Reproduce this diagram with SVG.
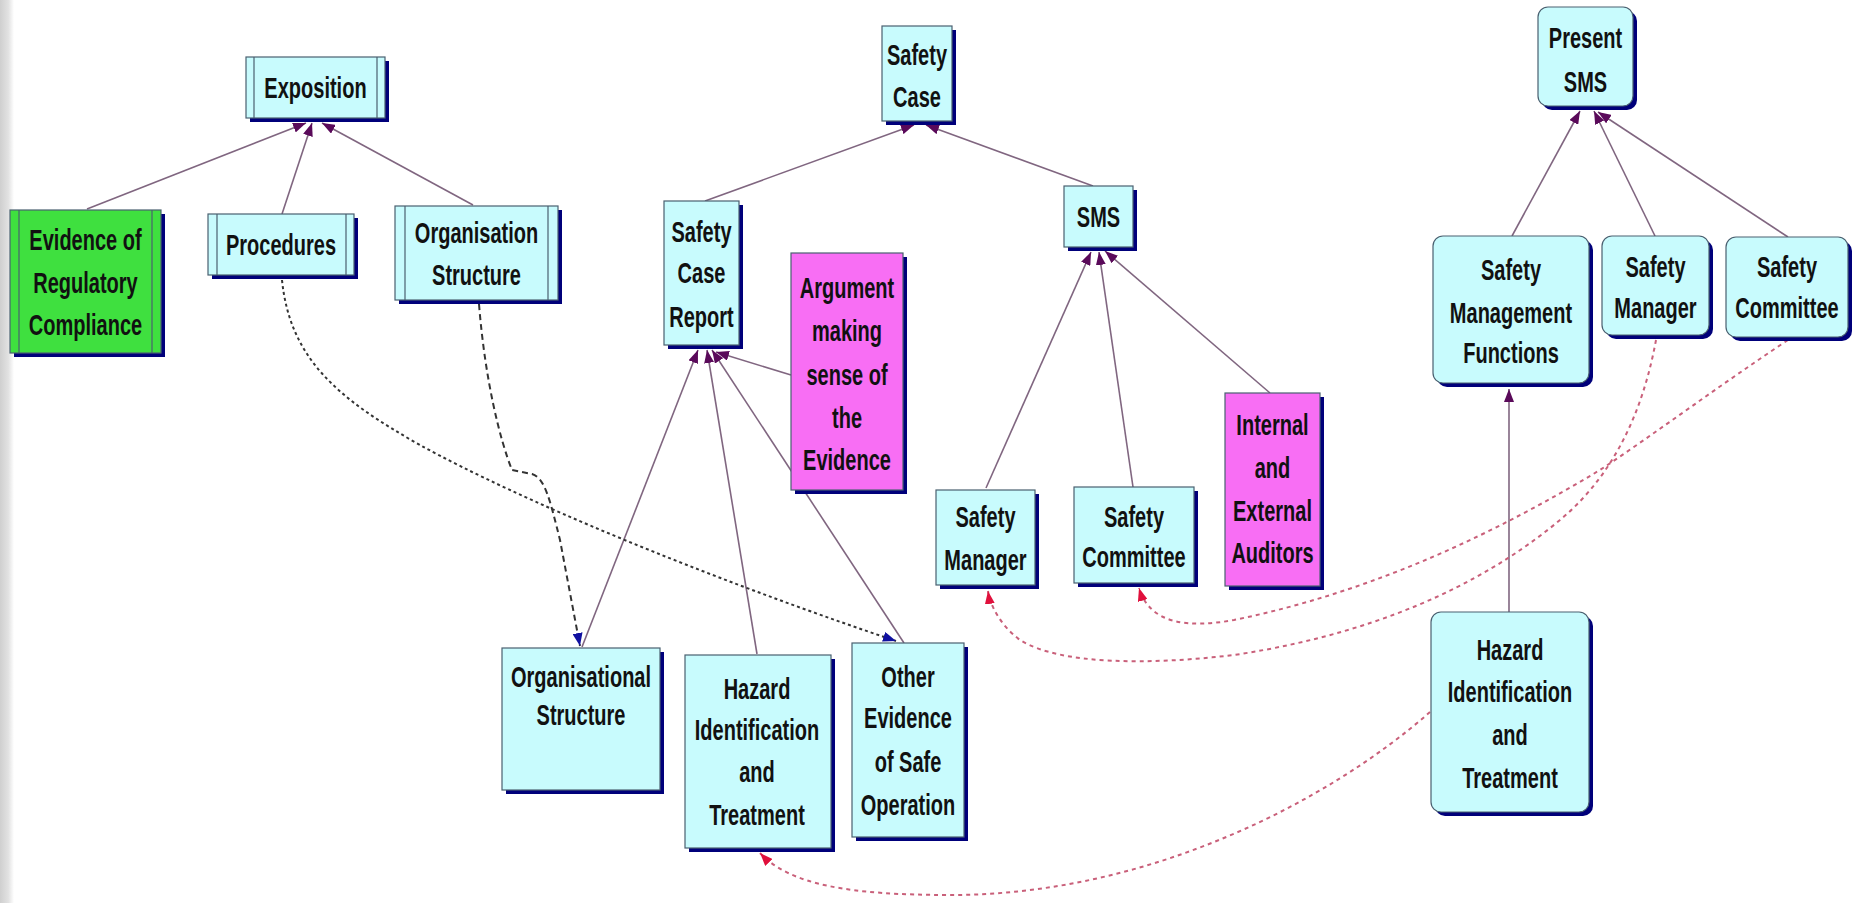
<svg xmlns="http://www.w3.org/2000/svg" width="1854" height="903" viewBox="0 0 1854 903">
<defs>
<linearGradient id="edge" x1="0" y1="0" x2="1" y2="0">
<stop offset="0" stop-color="#cfcfcf"/>
<stop offset="0.6" stop-color="#e2e2e2"/>
<stop offset="1" stop-color="#ffffff"/>
</linearGradient>
<marker id="ap" markerUnits="userSpaceOnUse" markerWidth="14" markerHeight="10" refX="13" refY="5" orient="auto"><path d="M0,0 L13,5 L0,10 z" fill="#5a0a5a"/></marker>
<marker id="ab" markerUnits="userSpaceOnUse" markerWidth="14" markerHeight="10" refX="13" refY="5" orient="auto"><path d="M0,0 L13,5 L0,10 z" fill="#1010a0"/></marker>
<marker id="ar" markerUnits="userSpaceOnUse" markerWidth="14" markerHeight="10" refX="13" refY="5" orient="auto"><path d="M0,0 L13,5 L0,10 z" fill="#e0103c"/></marker>
</defs>
<style>
.sh{fill:#00007a}
.box{stroke:#4a6070;stroke-width:1.2}
.cy{fill:#c8fbfd}
.gr{fill:#3fe03f}
.mg{fill:#f86ef4}
.bar{stroke:#4a6070;stroke-width:1.2}
text{font-family:"Liberation Sans",Arial,sans-serif;font-weight:bold;font-size:29px;fill:#111;text-anchor:middle}
.ln{fill:none;stroke:#806680;stroke-width:1.6}
.dk{fill:none;stroke:#333;stroke-width:2}
.rd{fill:none;stroke:#c9607a;stroke-width:2;stroke-dasharray:4 4}
</style>
<rect x="0" y="0" width="1854" height="903" fill="#ffffff"/>
<rect x="0" y="0" width="14" height="903" fill="url(#edge)"/>

<g id="connectors">
<path class="ln" d="M87,209 L306,123" marker-end="url(#ap)"/>
<path class="ln" d="M282,214 L312,123" marker-end="url(#ap)"/>
<path class="ln" d="M473,205 L322,123" marker-end="url(#ap)"/>
<path class="ln" d="M705,201 L914,125" marker-end="url(#ap)"/>
<path class="ln" d="M1093,186 L926,125" marker-end="url(#ap)"/>
<path class="ln" d="M582,647 L698,350" marker-end="url(#ap)"/>
<path class="ln" d="M757,654 L707,350" marker-end="url(#ap)"/>
<path class="ln" d="M904,643 L712,350" marker-end="url(#ap)"/>
<path class="ln" d="M791,375 L716,352" marker-end="url(#ap)"/>
<path class="ln" d="M986,488 L1091,252" marker-end="url(#ap)"/>
<path class="ln" d="M1133,487 L1099,252" marker-end="url(#ap)"/>
<path class="ln" d="M1270,393 L1105,251" marker-end="url(#ap)"/>
<path class="ln" d="M1512,236 L1580,111" marker-end="url(#ap)"/>
<path class="ln" d="M1655,236 L1594,111" marker-end="url(#ap)"/>
<path class="ln" d="M1788,237 L1598,112" marker-end="url(#ap)"/>
<path class="ln" d="M1509,612 L1509,389" marker-end="url(#ap)"/>
<path class="dk" stroke-dasharray="3 3" d="M282,280 C290,360 340,400 420,445 C520,500 700,575 896,641" marker-end="url(#ab)"/>
<path class="dk" stroke-dasharray="6 4" d="M479,304 C485,380 500,440 512,470 L532,474 C545,478 550,500 560,540 L580,646" marker-end="url(#ab)"/>
<path class="rd" d="M1430,712 C1330,800 1150,895 950,895 C850,895 790,885 760,853" marker-end="url(#ar)"/>
<path class="rd" d="M1656,340 C1645,400 1620,470 1560,520 C1500,570 1400,630 1234,655 C1150,665 1060,665 1020,640 C1000,625 990,605 988,591" marker-end="url(#ar)"/>
<path class="rd" d="M1788,340 C1720,385 1660,430 1600,470 C1500,530 1380,590 1234,620 C1190,628 1150,625 1139,588" marker-end="url(#ar)"/>
</g>

<g id="exposition">
<rect class="sh" x="250" y="61" width="139" height="61"/>
<rect class="box cy" x="246" y="57" width="139" height="61"/>
<line class="bar" x1="254" y1="57" x2="254" y2="118"/><line class="bar" x1="377" y1="57" x2="377" y2="118"/>
<text transform="matrix(0.69 0 0 1 315.5 0)"><tspan x="0" y="98">Exposition</tspan></text>
</g>

<g id="evidence-regulatory">
<rect class="sh" x="14" y="214" width="151" height="143"/>
<rect class="box gr" x="10" y="210" width="151" height="143"/>
<line class="bar" x1="19" y1="210" x2="19" y2="353"/><line class="bar" x1="152" y1="210" x2="152" y2="353"/>
<text transform="matrix(0.69 0 0 1 85.5 0)"><tspan x="0" y="250">Evidence of</tspan><tspan x="0" y="293">Regulatory</tspan><tspan x="0" y="335">Compliance</tspan></text>
</g>

<g id="procedures">
<rect class="sh" x="212" y="218" width="146" height="61"/>
<rect class="box cy" x="208" y="214" width="146" height="61"/>
<line class="bar" x1="217" y1="214" x2="217" y2="275"/><line class="bar" x1="346" y1="214" x2="346" y2="275"/>
<text transform="matrix(0.69 0 0 1 281 0)"><tspan x="0" y="255">Procedures</tspan></text>
</g>

<g id="organisation-structure">
<rect class="sh" x="399" y="210" width="163" height="94"/>
<rect class="box cy" x="395" y="206" width="163" height="94"/>
<line class="bar" x1="405" y1="206" x2="405" y2="300"/><line class="bar" x1="548" y1="206" x2="548" y2="300"/>
<text transform="matrix(0.69 0 0 1 476.5 0)"><tspan x="0" y="243">Organisation</tspan><tspan x="0" y="285">Structure</tspan></text>
</g>

<g id="safety-case">
<rect class="sh" x="886" y="30" width="70" height="95"/>
<rect class="box cy" x="882" y="26" width="70" height="95"/>
<text transform="matrix(0.69 0 0 1 917 0)"><tspan x="0" y="65">Safety</tspan><tspan x="0" y="107">Case</tspan></text>
</g>

<g id="safety-case-report">
<rect class="sh" x="668" y="205" width="75" height="144"/>
<rect class="box cy" x="664" y="201" width="75" height="144"/>
<text transform="matrix(0.69 0 0 1 701.5 0)"><tspan x="0" y="242">Safety</tspan><tspan x="0" y="283">Case</tspan><tspan x="0" y="327">Report</tspan></text>
</g>

<g id="argument">
<rect class="sh" x="795" y="257" width="112" height="237"/>
<rect class="box mg" x="791" y="253" width="112" height="237"/>
<text transform="matrix(0.69 0 0 1 847 0)"><tspan x="0" y="298">Argument</tspan><tspan x="0" y="341">making</tspan><tspan x="0" y="385">sense of</tspan><tspan x="0" y="428">the</tspan><tspan x="0" y="470">Evidence</tspan></text>
</g>

<g id="sms">
<rect class="sh" x="1068" y="190" width="69" height="61"/>
<rect class="box cy" x="1064" y="186" width="69" height="61"/>
<text transform="matrix(0.69 0 0 1 1098.5 0)"><tspan x="0" y="227">SMS</tspan></text>
</g>

<g id="safety-manager-sms">
<rect class="sh" x="940" y="494" width="99" height="95"/>
<rect class="box cy" x="936" y="490" width="99" height="95"/>
<text transform="matrix(0.69 0 0 1 985.5 0)"><tspan x="0" y="527">Safety</tspan><tspan x="0" y="570">Manager</tspan></text>
</g>

<g id="safety-committee-sms">
<rect class="sh" x="1078" y="491" width="120" height="96"/>
<rect class="box cy" x="1074" y="487" width="120" height="96"/>
<text transform="matrix(0.69 0 0 1 1134 0)"><tspan x="0" y="527">Safety</tspan><tspan x="0" y="567">Committee</tspan></text>
</g>

<g id="auditors">
<rect class="sh" x="1229" y="397" width="95" height="193"/>
<rect class="box mg" x="1225" y="393" width="95" height="193"/>
<text transform="matrix(0.69 0 0 1 1272.5 0)"><tspan x="0" y="435">Internal</tspan><tspan x="0" y="478">and</tspan><tspan x="0" y="521">External</tspan><tspan x="0" y="563">Auditors</tspan></text>
</g>

<g id="organisational-structure">
<rect class="sh" x="506" y="652" width="158" height="142"/>
<rect class="box cy" x="502" y="648" width="158" height="142"/>
<text transform="matrix(0.69 0 0 1 581 0)"><tspan x="0" y="687">Organisational</tspan><tspan x="0" y="725">Structure</tspan></text>
</g>

<g id="hazard-safety-case">
<rect class="sh" x="689" y="659" width="146" height="193"/>
<rect class="box cy" x="685" y="655" width="146" height="193"/>
<text transform="matrix(0.69 0 0 1 757 0)"><tspan x="0" y="699">Hazard</tspan><tspan x="0" y="740">Identification</tspan><tspan x="0" y="782">and</tspan><tspan x="0" y="825">Treatment</tspan></text>
</g>

<g id="other-evidence">
<rect class="sh" x="856" y="647" width="112" height="194"/>
<rect class="box cy" x="852" y="643" width="112" height="194"/>
<text transform="matrix(0.69 0 0 1 908 0)"><tspan x="0" y="687">Other</tspan><tspan x="0" y="728">Evidence</tspan><tspan x="0" y="772">of Safe</tspan><tspan x="0" y="815">Operation</tspan></text>
</g>

<g id="present-sms">
<rect class="sh" x="1542" y="11" width="95" height="99" rx="10"/>
<rect class="box cy" x="1538" y="7" width="95" height="99" rx="10"/>
<text transform="matrix(0.69 0 0 1 1585.5 0)"><tspan x="0" y="48">Present</tspan><tspan x="0" y="92">SMS</tspan></text>
</g>

<g id="safety-management-functions">
<rect class="sh" x="1437" y="240" width="156" height="147" rx="10"/>
<rect class="box cy" x="1433" y="236" width="156" height="147" rx="10"/>
<text transform="matrix(0.69 0 0 1 1511 0)"><tspan x="0" y="280">Safety</tspan><tspan x="0" y="323">Management</tspan><tspan x="0" y="363">Functions</tspan></text>
</g>

<g id="safety-manager-present">
<rect class="sh" x="1606" y="240" width="107" height="99" rx="10"/>
<rect class="box cy" x="1602" y="236" width="107" height="99" rx="10"/>
<text transform="matrix(0.69 0 0 1 1655.5 0)"><tspan x="0" y="277">Safety</tspan><tspan x="0" y="318">Manager</tspan></text>
</g>

<g id="safety-committee-present">
<rect class="sh" x="1730" y="241" width="122" height="100" rx="10"/>
<rect class="box cy" x="1726" y="237" width="122" height="100" rx="10"/>
<text transform="matrix(0.69 0 0 1 1787 0)"><tspan x="0" y="277">Safety</tspan><tspan x="0" y="318">Committee</tspan></text>
</g>

<g id="hazard-present">
<rect class="sh" x="1435" y="616" width="158" height="200" rx="10"/>
<rect class="box cy" x="1431" y="612" width="158" height="200" rx="10"/>
<text transform="matrix(0.69 0 0 1 1510 0)"><tspan x="0" y="660">Hazard</tspan><tspan x="0" y="702">Identification</tspan><tspan x="0" y="745">and</tspan><tspan x="0" y="788">Treatment</tspan></text>
</g>
</svg>
